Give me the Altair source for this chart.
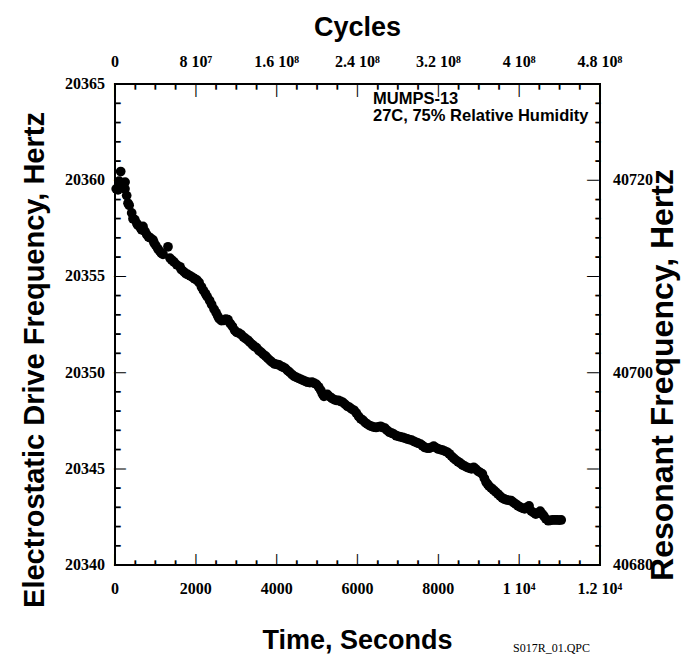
import altair as alt
import pandas as pd

# ---------------- data ----------------
time_s = [30, 74, 100, 141, 166, 200, 247, 250, 289, 322, 350, 413, 445, 490, 540, 569, 635, 660, 693, 740,
          784, 830, 875, 940, 965, 1010, 1060, 1110, 1150, 1188, 1311, 1360, 1403, 1460, 1530, 1608, 1640, 1700, 1750, 1800,
          1860, 1920, 1970, 2030, 2080, 2140, 2190, 2240, 2280, 2340, 2390, 2450, 2500, 2540, 2575, 2630, 2685, 2740, 2795, 2850,
          2905, 2960, 3010, 3070, 3120, 3180, 3230, 3290, 3340, 3400, 3450, 3500, 3560, 3620, 3670, 3730, 3780, 3840, 3890, 3950,
          4000, 4060, 4110, 4160, 4215, 4270, 4325, 4380, 4435, 4490, 4545, 4600, 4655, 4710, 4765, 4820, 4875, 4930, 4985, 5040,
          5090, 5130, 5170, 5210, 5255, 5310, 5365, 5420, 5475, 5530, 5585, 5640, 5695, 5750, 5805, 5860, 5915, 5970, 6025, 6080,
          6135, 6190, 6245, 6300, 6350, 6400, 6460, 6520, 6570, 6620, 6680, 6730, 6790, 6850, 6900, 6960, 7010, 7060, 7120, 7170,
          7230, 7280, 7340, 7400, 7450, 7500, 7560, 7610, 7665, 7720, 7775, 7830, 7885, 7940, 7995, 8050, 8105, 8160, 8215, 8270,
          8325, 8380, 8435, 8490, 8545, 8600, 8655, 8710, 8765, 8820, 8875, 8930, 8985, 9040, 9090, 9140, 9180, 9220, 9255, 9310,
          9365, 9420, 9475, 9530, 9585, 9640, 9695, 9750, 9805, 9860, 9915, 9970, 10025, 10080, 10135, 10190, 10245, 10300, 10355, 10410,
          10465, 10520, 10570, 10610, 10660, 10720, 10775, 10830, 10885, 10940, 10990, 11040]
freq_hz = [20359.55, 20359.5, 20359.95, 20360.45, 20359.88, 20359.6, 20359.55, 20359.9, 20359.2, 20358.8, 20358.7, 20358.3, 20358.0, 20357.95, 20357.75, 20357.65, 20357.5, 20357.42, 20357.6, 20357.35,
           20357.18, 20357.05, 20357.0, 20356.9, 20356.75, 20356.6, 20356.44, 20356.3, 20356.2, 20356.15, 20356.54, 20355.95, 20355.85, 20355.75, 20355.6, 20355.5, 20355.36, 20355.25, 20355.15, 20355.1,
           20355.03, 20354.95, 20354.88, 20354.8, 20354.68, 20354.45, 20354.26, 20354.1, 20353.95, 20353.75, 20353.54, 20353.3, 20353.12, 20352.95, 20352.81, 20352.7, 20352.71, 20352.78, 20352.75, 20352.55,
           20352.4, 20352.2, 20352.09, 20352.05, 20351.98, 20351.85, 20351.77, 20351.68, 20351.57, 20351.45, 20351.36, 20351.3, 20351.15, 20351.05, 20350.95, 20350.85, 20350.74, 20350.62, 20350.53, 20350.45,
           20350.43, 20350.4, 20350.33, 20350.28, 20350.22, 20350.1, 20350.01, 20349.9, 20349.81, 20349.75, 20349.7, 20349.65, 20349.6, 20349.55, 20349.5, 20349.48, 20349.5, 20349.45, 20349.39, 20349.25,
           20349.08, 20348.9, 20348.77, 20348.85, 20348.87, 20348.75, 20348.67, 20348.6, 20348.56, 20348.55, 20348.5, 20348.45, 20348.35, 20348.25, 20348.19, 20348.1, 20348.04, 20347.9, 20347.73, 20347.6,
           20347.52, 20347.4, 20347.32, 20347.25, 20347.21, 20347.17, 20347.15, 20347.18, 20347.21, 20347.15, 20347.11, 20347.0, 20346.9, 20346.85, 20346.8, 20346.72, 20346.69, 20346.66, 20346.63, 20346.6,
           20346.55, 20346.52, 20346.49, 20346.42, 20346.38, 20346.33, 20346.28, 20346.2, 20346.11, 20346.08, 20346.07, 20346.12, 20346.18, 20346.1, 20346.03, 20346.0, 20345.97, 20345.92, 20345.87, 20345.78,
           20345.66, 20345.55, 20345.45, 20345.37, 20345.29, 20345.2, 20345.14, 20345.08, 20345.04, 20345.0, 20345.08, 20344.98, 20344.87, 20344.8, 20344.73, 20344.5, 20344.31, 20344.2, 20344.1, 20344.0,
           20343.9, 20343.8, 20343.69, 20343.58, 20343.48, 20343.42, 20343.38, 20343.36, 20343.34, 20343.25, 20343.17, 20343.08, 20343.01, 20342.96, 20342.92, 20343.0, 20343.07, 20342.8, 20342.72, 20342.65,
           20342.7, 20342.8, 20342.65, 20342.55, 20342.4, 20342.3, 20342.32, 20342.34, 20342.34, 20342.34, 20342.33, 20342.34]

# axis ticks and labels
time_major = [0, 2000, 4000, 6000, 8000, 10000, 12000]
time_minor = [500, 1000, 1500, 2500, 3000, 3500, 4500, 5000, 5500, 6500, 7000, 7500,
              8500, 9000, 9500, 10500, 11000, 11500]
time_labels = ["0", "2000", "4000", "6000", "8000", "1 10⁴", "1.2 10⁴"]
cycle_labels = ["0", "8 10⁷", "1.6 10⁸", "2.4 10⁸", "3.2 10⁸", "4 10⁸", "4.8 10⁸"]   # at time_major (40 000 cycles/s)
freq_major = [20340, 20345, 20350, 20355, 20360, 20365]
freq_labels = ["20340", "20345", "20350", "20355", "20360", "20365"]
freq_minor = [20341, 20342, 20343, 20344, 20346, 20347, 20348, 20349, 20351, 20352, 20353, 20354,
              20356, 20357, 20358, 20359, 20361, 20362, 20363, 20364]
res_at_freq = [20340, 20350, 20360]            # resonant = 2 x drive frequency
res_labels = ["40680", "40700", "40720"]
annotation_lines = ["MUMPS-13", "27C, 75% Relative Humidity"]
footer = "S017R_01.QPC"

# ---------------- layout ----------------
W, H = 485, 481
T0, T1 = 0, 12000
F0, F1 = 20340, 20365
SERIF = "Liberation Serif"
SANS = "Liberation Sans"

XS = alt.Scale(domain=[T0, T1], nice=False, zero=False)
YS = alt.Scale(domain=[F0, F1], nice=False, zero=False)


def X(field):
    return alt.X(field, type="quantitative", scale=XS, axis=None)


def Y(field):
    return alt.Y(field, type="quantitative", scale=YS, axis=None)


df = pd.DataFrame({"t": time_s, "f": freq_hz})
points = alt.Chart(df).mark_circle(size=95, color="black", opacity=1).encode(x=X("t"), y=Y("f"))

TXT = dict(font=SERIF, fontWeight="bold", fontSize=16, color="black")

bottom_labels = alt.Chart(pd.DataFrame({"t": time_major, "lab": time_labels})).mark_text(
    align="center", baseline="top", **TXT).encode(x=X("t"), y=alt.value(H + 16), text="lab:N")

top_labels = alt.Chart(pd.DataFrame({"t": time_major, "lab": cycle_labels})).mark_text(
    align="center", baseline="bottom", **TXT).encode(x=X("t"), y=alt.value(-14), text="lab:N")

left_labels = alt.Chart(pd.DataFrame({"f": freq_major, "lab": freq_labels})).mark_text(
    align="right", baseline="middle", **TXT).encode(y=Y("f"), x=alt.value(-10), text="lab:N")

right_labels = alt.Chart(pd.DataFrame({"f": res_at_freq, "lab": res_labels})).mark_text(
    align="left", baseline="middle", **TXT).encode(y=Y("f"), x=alt.value(W + 13), text="lab:N")

one = pd.DataFrame({"k": [0]})
TTL = dict(font=SANS, fontWeight="bold", color="black", align="center")

top_title = alt.Chart(one).mark_text(text="Cycles", fontSize=27, baseline="bottom", **TTL).encode(
    x=alt.value(W / 2), y=alt.value(-42))
bottom_title = alt.Chart(one).mark_text(text="Time, Seconds", fontSize=27, baseline="top", **TTL).encode(
    x=alt.value(W / 2), y=alt.value(H + 63))
left_title = alt.Chart(one).mark_text(
    text="Electrostatic Drive Frequency, Hertz", fontSize=29, baseline="middle", angle=270, **TTL
).encode(x=alt.value(-80), y=alt.value(276))
right_title = alt.Chart(one).mark_text(
    text="Resonant Frequency, Hertz", fontSize=32, baseline="middle", angle=270, **TTL
).encode(x=alt.value(W + 63), y=alt.value(291))

ann = alt.Chart(one).mark_text(
    text=annotation_lines, align="left", baseline="alphabetic", font=SANS, fontWeight="bold",
    fontSize=16.5, lineHeight=17, color="black").encode(x=alt.value(258), y=alt.value(20))

foot = alt.Chart(one).mark_text(
    text=footer, align="right", baseline="alphabetic", font=SERIF, fontSize=12, color="black"
).encode(x=alt.value(475), y=alt.value(568))

# ---- inward tick marks, drawn as bar glyphs placed through the scales ----
BAR = "|"
MAJ = dict(font=SANS, fontSize=12.8, color="black", align="center", baseline="middle")
MIN = dict(font=SANS, fontSize=4.3, color="black", stroke="black", strokeWidth=1.4,
           align="center", baseline="middle")


def xtick_glyphs(vals, style, length, top):
    d = pd.DataFrame({"t": vals, "g": [BAR] * len(vals)})
    ypix = length / 2 if top else H - length / 2
    return alt.Chart(d).mark_text(**style).encode(x=X("t"), y=alt.value(ypix), text="g:N")


def ytick_glyphs(vals, style, length, right):
    d = pd.DataFrame({"f": vals, "g": [BAR] * len(vals)})
    xpix = W - length / 2 if right else length / 2
    return alt.Chart(d).mark_text(angle=90, **style).encode(y=Y("f"), x=alt.value(xpix), text="g:N")


tick_layers = [
    xtick_glyphs(time_major, MAJ, 12, False), xtick_glyphs(time_minor, MIN, 5, False),
    xtick_glyphs(time_major, MAJ, 12, True), xtick_glyphs(time_minor, MIN, 5, True),
    ytick_glyphs(freq_major, MAJ, 12, False), ytick_glyphs(freq_minor, MIN, 5, False),
    ytick_glyphs(freq_major, MAJ, 12, True), ytick_glyphs(freq_minor, MIN, 5, True),
]

chart = alt.layer(points, bottom_labels, top_labels, left_labels, right_labels,
                  top_title, bottom_title, left_title, right_title, ann, foot, *tick_layers).properties(
    width=W, height=H,
    padding={"left": 107, "top": 76, "right": 85, "bottom": 90},
    autosize=alt.AutoSizeParams(type="none"),
    background="white",
).configure_view(stroke="black", strokeWidth=2)

chart.save("out.html", embed_options={"renderer": "svg", "actions": False})
